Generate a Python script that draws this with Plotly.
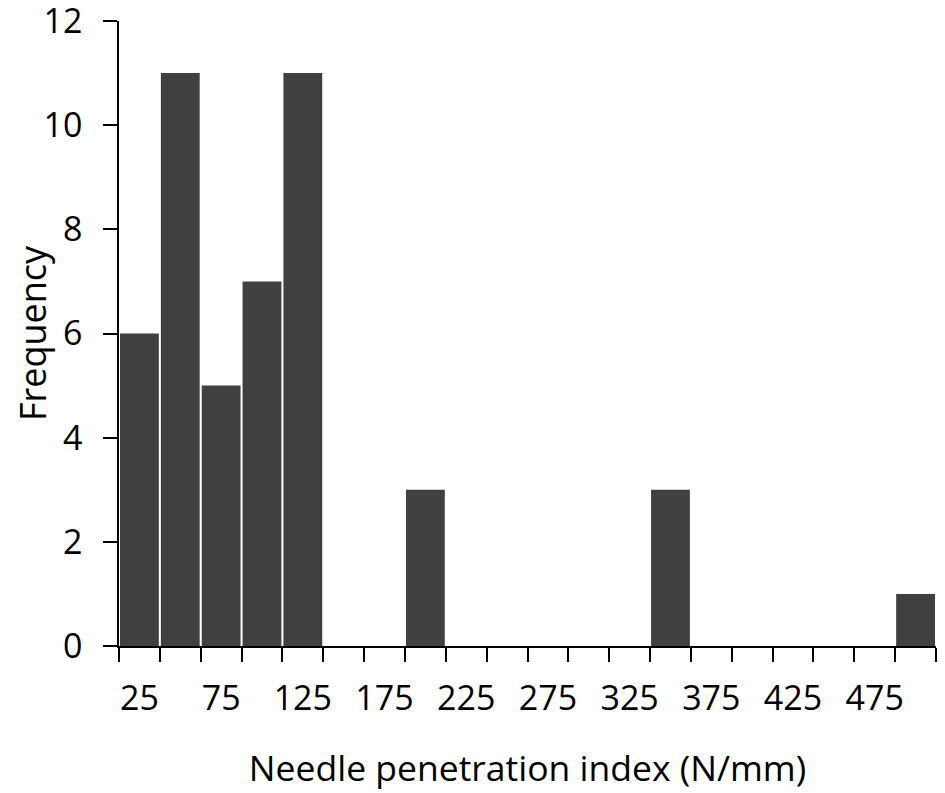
import plotly.graph_objects as go

bin_centers = [25, 50, 75, 100, 125, 150, 175, 200, 225, 250, 275, 300, 325, 350, 375, 400, 425, 450, 475, 500]
frequency = [6, 11, 5, 7, 11, 0, 0, 3, 0, 0, 0, 0, 0, 3, 0, 0, 0, 0, 0, 1]
x_tick_labels = [25, 75, 125, 175, 225, 275, 325, 375, 425, 475]
bin_edges = [12.5 + 25 * i for i in range(21)]
y_ticks = [0, 2, 4, 6, 8, 10, 12]

font_family = "Open Sans, Liberation Sans, sans-serif"

fig = go.Figure(go.Bar(
    x=bin_centers, y=frequency,
    marker=dict(color="#404040", line=dict(width=0)),
))

fig.update_layout(
    width=945, height=793,
    margin=dict(l=111, r=17, t=13, b=155),
    paper_bgcolor="white", plot_bgcolor="white",
    bargap=0.05,
    showlegend=False,
    font=dict(family=font_family, color="black", size=34),
)
fig.update_xaxes(
    automargin=False,
    range=[bin_edges[0], bin_edges[-1]],
    tickvals=x_tick_labels, ticktext=[str(v) for v in x_tick_labels],
    ticks="outside", ticklen=0, tickcolor="black",
    ticklabelstandoff=21,
    tickfont=dict(size=34),
    minor=dict(tickvals=bin_edges, ticks="outside", ticklen=14, tickwidth=1.5, tickcolor="black"),
    showline=True, linecolor="black", linewidth=1.5,
    showgrid=False, zeroline=False,
    title=dict(text="Needle penetration index (N/mm)", font=dict(size=35.5), standoff=38),
)
fig.update_yaxes(
    automargin=False,
    range=[0, 12], tickvals=y_ticks,
    ticks="outside", ticklen=14, tickwidth=1.5, tickcolor="black",
    ticklabelstandoff=14, ticklabeloverflow="allow",
    tickfont=dict(size=34),
    showline=True, linecolor="black", linewidth=1.5,
    showgrid=False, zeroline=False,
    title=dict(text="Frequency", font=dict(size=36), standoff=20),
)

fig.write_html("out.html")
